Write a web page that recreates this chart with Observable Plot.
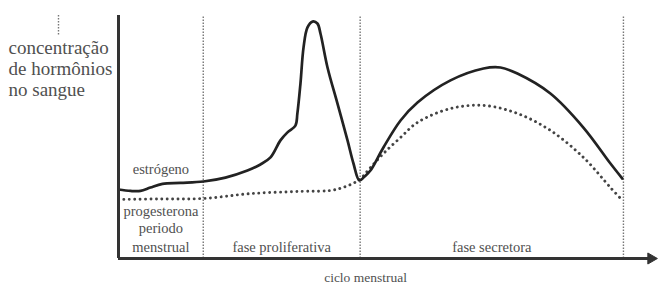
<!DOCTYPE html>
<html>
<head>
<meta charset="utf-8">
<script src="https://cdn.jsdelivr.net/npm/d3@7"></script>
<script src="https://cdn.jsdelivr.net/npm/@observablehq/plot@0.6"></script>
<style>
  html, body { margin: 0; padding: 0; background: #fff; }
  #chart svg { display: block; }
  #chart svg text, #chart svg tspan { font-family: "Liberation Serif", "DejaVu Serif", serif !important; }
</style>
</head>
<body>
<div id="chart"></div>
<script>
// Cycle day (x) and relative hormone concentration (y, 0-100)
const estrogenDay = [0.00, 0.67, 1.22, 1.77, 2.44, 3.44, 4.71, 5.93, 7.15, 7.87, 8.43, 8.98, 9.37, 9.81, 9.92, 10.09, 10.26, 10.48, 10.76, 11.03, 11.20, 11.59, 12.14, 12.70, 13.03, 13.36, 13.64, 13.97, 14.69, 15.64, 16.58, 18.41, 20.24, 21.18, 22.12, 23.95, 25.78, 27.28, 27.94];
const estrogenVal = [28.4, 27.8, 27.8, 29.2, 30.7, 31.1, 31.7, 33.3, 36.2, 38.7, 41.6, 48.6, 51.9, 54.7, 59.7, 72.0, 86.8, 95.1, 97.5, 96.7, 92.6, 78.6, 63.8, 48.6, 39.1, 32.1, 33.7, 36.2, 45.7, 56.8, 64.2, 73.3, 78.2, 78.6, 76.1, 67.9, 53.9, 39.1, 32.9];

const progDay = [0.00, 2.33, 4.71, 7.32, 10.09, 11.75, 12.59, 13.36, 13.97, 14.69, 15.64, 16.58, 18.41, 20.24, 22.12, 23.95, 25.78, 27.28, 27.94];
const progVal = [24.3, 24.5, 24.7, 26.7, 27.6, 28.0, 29.6, 32.5, 37.4, 43.2, 49.8, 56.0, 61.7, 63.0, 59.7, 52.7, 41.6, 29.2, 23.9];

// Phases of the cycle
const phaseNames = ["periodo\nmenstrual", "fase proliferativa", "fase secretora"];
const phaseStart = [0, 4.7, 13.4];
const phaseEnd = [4.7, 13.4, 28];

const yLabel = "concentração\nde hormônios\nno sangue";
const xLabel = "ciclo menstrual";
const estrogenLabel = "estrógeno";
const progLabel = "progesterona";

const estrogen = estrogenDay.map((d, i) => ({day: d, value: estrogenVal[i]}));
const progesterone = progDay.map((d, i) => ({day: d, value: progVal[i]}));
const phases = phaseNames.map((n, i) => ({name: n, start: phaseStart[i], end: phaseEnd[i], mid: (phaseStart[i] + phaseEnd[i]) / 2}));

const textColor = "#505050";
const font = "Liberation Serif";

const chart = Plot.plot({
  width: 659,
  height: 284,
  marginLeft: 118,
  marginRight: 0,
  marginTop: 15,
  marginBottom: 26,
  x: {domain: [0, 30], axis: null},
  y: {domain: [0, 100], axis: null},
  style: {fontFamily: font, background: "#fff", overflow: "visible"},
  marks: [
    // phase boundaries
    Plot.ruleX(phaseEnd, {x: d => d, y1: 0, y2: 100, stroke: "#777", strokeWidth: 1.4, strokeDasharray: "1.5,1.5"}),
    // small dotted tick at top-left
    Plot.ruleX([0], {y1: 92, y2: 100, dx: -60, stroke: "#777", strokeWidth: 1.4, strokeDasharray: "1.5,1.5"}),
    // progesterone (dotted)
    Plot.line(progesterone, {x: "day", y: "value", curve: "catmull-rom", stroke: "#444", strokeWidth: 2.9, strokeDasharray: "0.01,5.4", strokeLinecap: "round"}),
    // estrogen (solid)
    Plot.line(estrogen, {x: "day", y: "value", curve: "catmull-rom", stroke: "#222", strokeWidth: 2.7}),
    // axes
    Plot.ruleX([0], {y1: 0, y2: 100, stroke: "#333", strokeWidth: 3}),
    Plot.ruleY([0], {x1: 0, x2: 29.4, stroke: "#333", strokeWidth: 3}),
    Plot.dot([29.53], {x: d => d, y: 0, symbol: "triangle", rotate: 90, r: 4.1, fill: "#333", stroke: "#333", strokeWidth: 1}),
    // labels
    Plot.text([yLabel], {frameAnchor: "top-left", lineAnchor: "bottom", textAnchor: "start", dx: -110, dy: 80, fontSize: 19, lineHeight: 1.105, fill: textColor, fontFamily: font}),
    Plot.text(phases, {x: "mid", y: 0, text: "name", lineAnchor: "bottom", dy: -7, fontSize: 14.5, lineHeight: 1.31, fill: textColor, fontFamily: font}),
    Plot.text([estrogenLabel], {x: phases[0].mid, y: 0, lineAnchor: "bottom", dy: -85, fontSize: 14.5, fill: textColor, fontFamily: font}),
    Plot.text([progLabel], {x: phases[0].mid, y: 0, lineAnchor: "bottom", dy: -43, fontSize: 14.5, fill: textColor, fontFamily: font}),
    Plot.text([xLabel], {x: 13.7, y: 0, lineAnchor: "bottom", dy: 23, fontSize: 13.5, fill: textColor, fontFamily: font})
  ]
});
document.getElementById("chart").appendChild(chart);
</script>
</body>
</html>
